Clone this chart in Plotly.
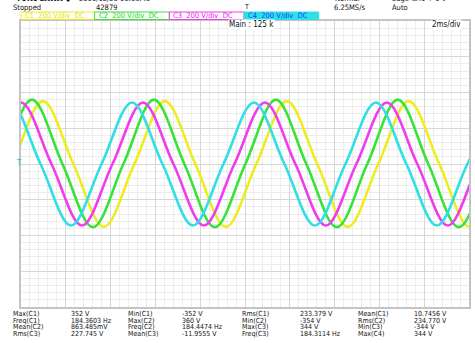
import plotly.graph_objects as go

# ---- screen geometry (pixels) ----
W, H = 475, 343
GL, GR, GT, GB = 21, 471, 21, 307          # graticule edges
PW, PH = GR - GL, GB - GT

# ---- acquisition settings ----
time_range_ms = [0, 20]                      # 2 ms/div x 10 div
volt_range = [-800, 800]                     # 200 V/div x 8 div

# ---- waveform turning points (C4 reference), ms ----
c4_key_times = [-3.211, -1.850, -0.489, 0.872, 2.233, 3.594, 4.955, 6.316,
                7.677, 9.038, 10.399, 11.760, 13.121, 14.482, 15.843,
                17.204, 18.565, 19.926, 21.287]
key_sign = [-1, 0, 1, 0, -1, 0, 1, 0, -1, 0, 1, 0, -1, 0, 1, 0, -1, 0, 1]

channels = ["C1", "C2", "C3", "C4"]
ch_max_v = [352, 360, 344, 344]
ch_min_v = [-352, -354, -344, -344]
ch_lag_ms = [1.467, 0.978, 0.489, 0.0]
ch_colors = ["#eded1e", "#36e336", "#f03cf0", "#2ee0e6"]

# ---- measurement readout ----
meas_labels = [
    ["Max(C1)", "Min(C1)", "Rms(C1)", "Mean(C1)"],
    ["Freq(C1)", "Max(C2)", "Min(C2)", "Rms(C2)"],
    ["Mean(C2)", "Freq(C2)", "Max(C3)", "Min(C3)"],
    ["Rms(C3)", "Mean(C3)", "Freq(C3)", "Max(C4)"],
]
meas_values = [
    ["352 V", "-352 V", "233.379 V", "10.7456 V"],
    ["184.3603 Hz", "360 V", "-354 V", "234.770 V"],
    ["863.485mV", "184.4474 Hz", "344 V", "-344 V"],
    ["227.745 V", "-11.9555 V", "184.3114 Hz", "344 V"],
]


def px(x):
    return (x - GL) / PW


def py(y):
    return (GB - y) / PH


FONT = "Liberation Sans Narrow, DejaVu Sans Condensed, Arial, sans-serif"

fig = go.Figure()
for name, vmax, vmin, lag, col in zip(channels, ch_max_v, ch_min_v, ch_lag_ms, ch_colors):
    t = [k + lag for k in c4_key_times]
    v = [vmax if s > 0 else (vmin if s < 0 else 0) for s in key_sign]
    fig.add_trace(go.Scatter(
        x=t, y=v, mode="lines", name=name,
        line=dict(color=col, width=2.6, shape="spline", smoothing=1.0),
        showlegend=False, hoverinfo="skip"))

annotations = []


def label(text, x, y, size=7.5, color="#111", anchor="left", bold=False, bg=None):
    if bold:
        text = "<b>" + text + "</b>"
    a = dict(text=text, x=px(x), y=py(y), xref="paper", yref="paper",
             xanchor=anchor, yanchor="middle", showarrow=False, borderpad=0,
             font=dict(family=FONT, size=size, color=color))
    if bg:
        a["bgcolor"] = bg
    annotations.append(a)


# header (top line runs off the screen edge)
label("YOKOGAWA ◆", 14, -2, size=8, bold=True)
label("2016/12/26 01:03:45", 78, -2, size=7.5)
label("Normal", 335, -2, size=7.5)
label("Edge CH1 ↑ 0 V", 393, -2, size=7.5)
label("Stopped", 12, 7.5, size=7.5)
label("42879", 95, 7.5, size=7.5)
label("T", 244, 6.5, size=7)
label("6.25MS/s", 334, 7.5, size=7.5)
label("Auto", 393, 7.5, size=7.5)
label("Main : 125 k", 229, 25, size=8, bg="white")
label("2ms/div", 433, 25, size=8, bg="white")
label("T", 15, 163, size=8, color="#20c8d0")

# channel boxes
shapes = []
box_x = [21, 95, 170, 245]
text_cols = ["#e4e400", "#22cc22", "#e020e0", "#1a3cff"]
for i, (name, col) in enumerate(zip(channels, ch_colors)):
    x0 = box_x[i]
    shapes.append(dict(type="rect", xref="paper", yref="paper",
                       x0=px(x0), x1=px(x0 + 75), y0=py(19.5), y1=py(12),
                       line=dict(color=col, width=1),
                       fillcolor=col if name == "C4" else "white", layer="above"))
    label(name + "  200 V/div  DC", x0 + 3, 16, size=7.5, color=text_cols[i])

# measurement table
col_x = [12, 70, 127, 182, 242, 300, 358, 415]
row_y = [314, 320.7, 327.4, 334.1]
for r in range(4):
    for c in range(4):
        label(meas_labels[r][c], col_x[2 * c], row_y[r], size=7)
        label(meas_values[r][c], col_x[2 * c + 1], row_y[r], size=7)

fig.update_layout(
    width=W, height=H,
    margin=dict(l=GL, r=W - GR, t=GT, b=H - GB, pad=0),
    paper_bgcolor="white", plot_bgcolor="white",
    annotations=annotations, shapes=shapes,
    xaxis=dict(range=time_range_ms, dtick=2, showticklabels=False, zeroline=False,
               showgrid=True, gridcolor="#d6d6d6", gridwidth=1,
               minor=dict(dtick=0.4, showgrid=True, gridcolor="#ececec", gridwidth=1),
               showline=True, linecolor="#c4c4c4", linewidth=1.5, mirror=True,
               fixedrange=True),
    yaxis=dict(range=volt_range, dtick=200, showticklabels=False, zeroline=False,
               showgrid=True, gridcolor="#d6d6d6", gridwidth=1,
               minor=dict(dtick=40, showgrid=True, gridcolor="#ececec", gridwidth=1),
               showline=True, linecolor="#c4c4c4", linewidth=1.5, mirror=True,
               fixedrange=True),
)

fig.write_html("out.html", config={"displayModeBar": False})
